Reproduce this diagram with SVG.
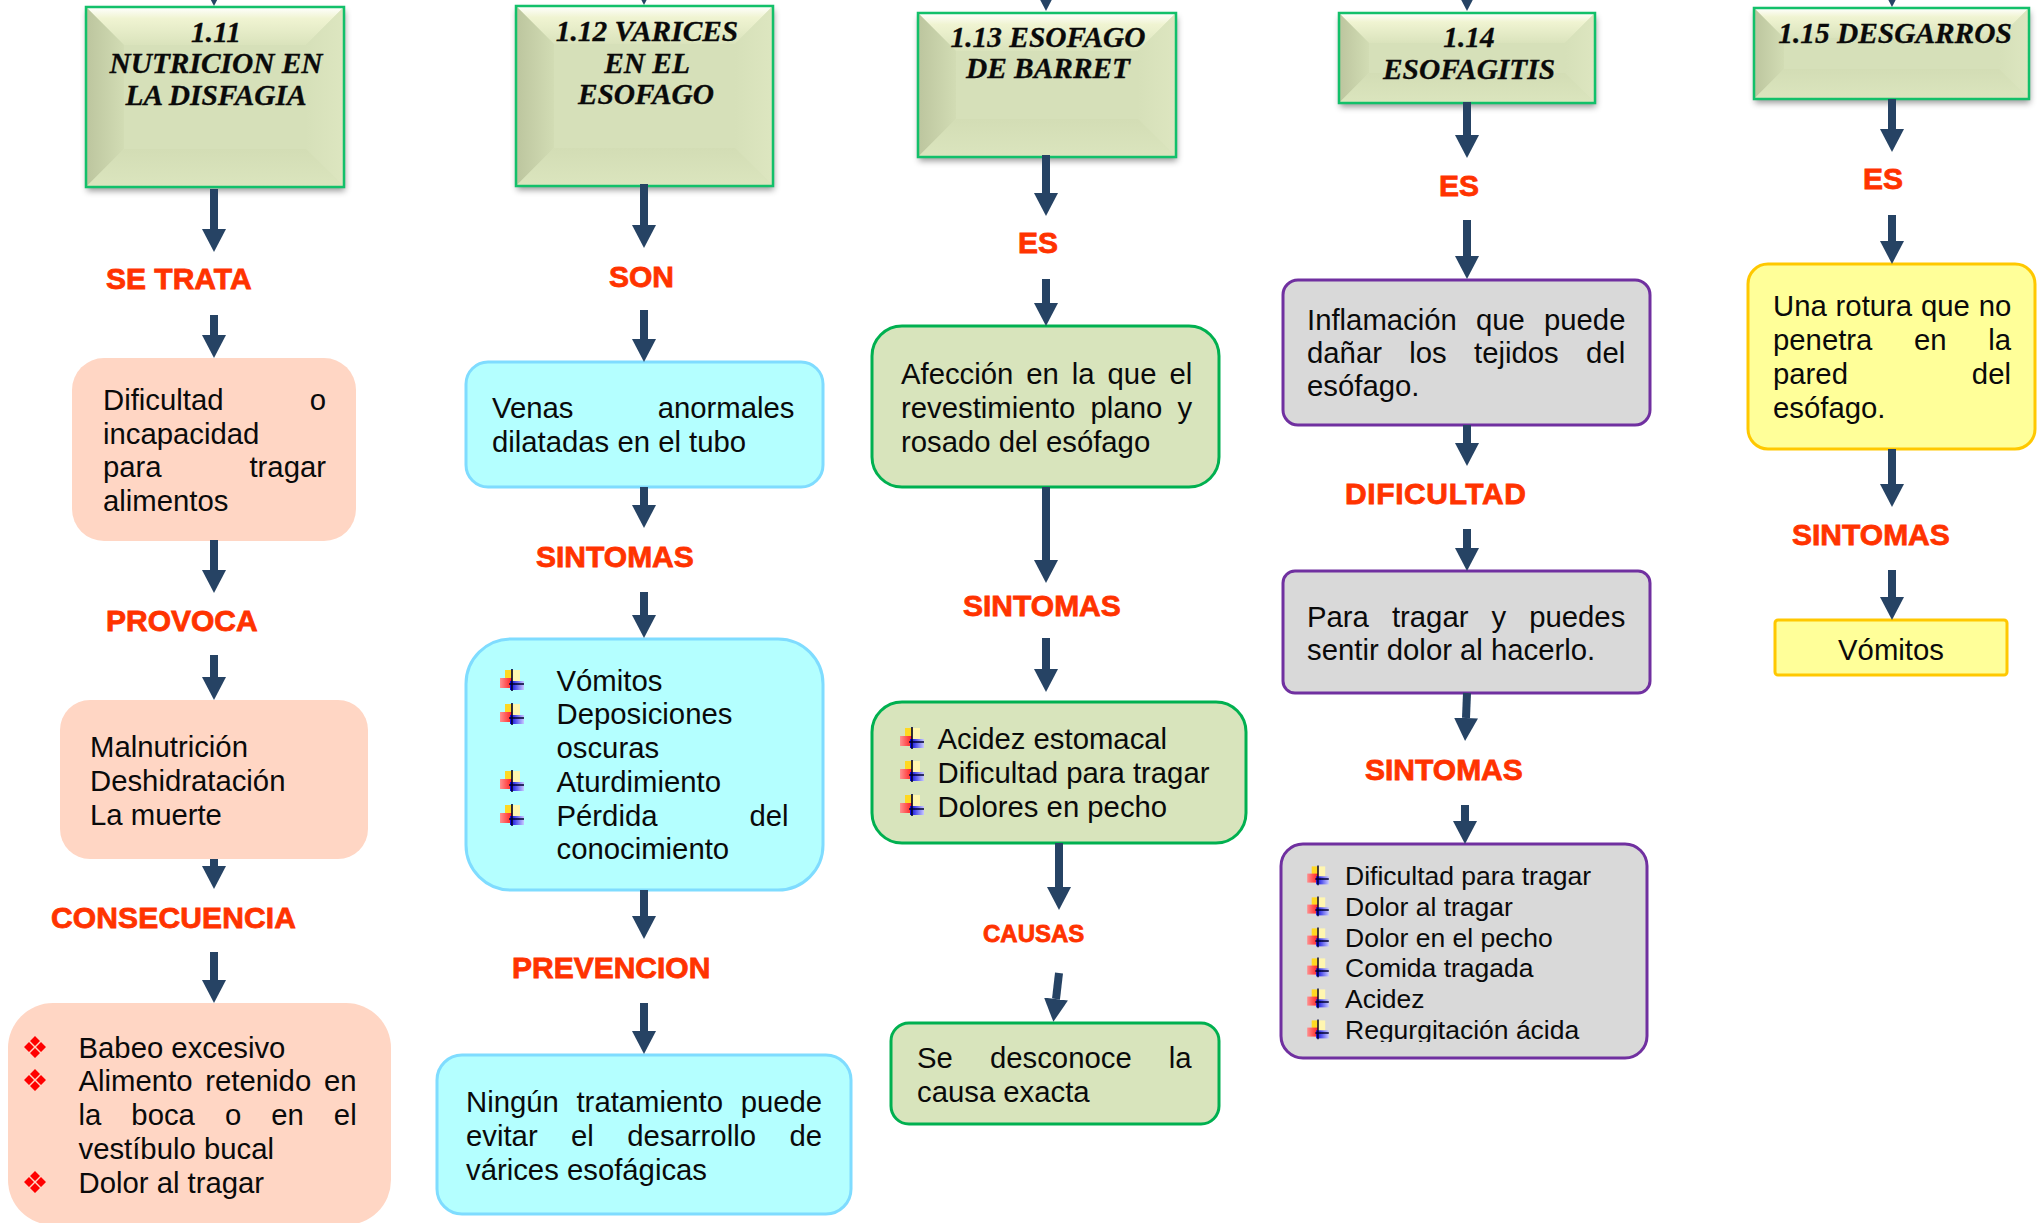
<svg xmlns="http://www.w3.org/2000/svg" width="2042" height="1223" viewBox="0 0 2042 1223">
<style>
text{font-family:"Liberation Sans",Arial,sans-serif;fill:#0a0a0a}
.b{font-size:29.3px}
.s{font-size:26.5px}
.l{font-size:30px;font-weight:bold;fill:#ff3300;stroke:#ff3300;stroke-width:.8px}
.h{font-family:"Liberation Serif","Times New Roman",serif;font-size:29.4px;font-weight:bold;font-style:italic;text-anchor:middle;stroke:#0a0a0a;stroke-width:.3px}
.hf{fill:#d6e0b9}
.ho{fill:none;stroke:#12c06a;stroke-width:2.5px}
.p{fill:#ffd6c4}
.c{fill:#b4ffff;stroke:#7fdcff;stroke-width:3px}
.g{fill:#d8e4bc;stroke:#00b050;stroke-width:3px}
.v{fill:#d9d9d9;stroke:#7030a0;stroke-width:3px}
.y{fill:#ffff99;stroke:#ffc800;stroke-width:3px}
#connectors line{stroke:#264364;stroke-width:8px;marker-end:url(#ah)}
</style>
<defs>
<marker id="ah" markerUnits="userSpaceOnUse" markerWidth="23" markerHeight="24" refX="0" refY="12" orient="auto"><path d="M0 0L23 12L0 24Z" fill="#264364"/></marker>
<linearGradient id="tg" x1="0" y1="0" x2="0" y2="1"><stop offset="0" stop-color="#ffffff"/><stop offset=".3" stop-color="#f0f4d2"/><stop offset="1" stop-color="#dae3bc"/></linearGradient>
<linearGradient id="lg" x1="0" y1="0" x2="1" y2="0"><stop offset="0" stop-color="#bcc59e"/><stop offset="1" stop-color="#d2dcb4"/></linearGradient>
<linearGradient id="rg" x1="0" y1="0" x2="1" y2="0"><stop offset="0" stop-color="#d6e0b9"/><stop offset="1" stop-color="#dde6c0"/></linearGradient>
<linearGradient id="bg" x1="0" y1="0" x2="0" y2="1"><stop offset="0" stop-color="#d3ddb5"/><stop offset="1" stop-color="#dbe5be"/></linearGradient>
<linearGradient id="ir" x1="0" y1="0" x2="1" y2="0"><stop offset="0" stop-color="#ff9090"/><stop offset="1" stop-color="#ff2020"/></linearGradient>
<linearGradient id="ib" x1="0" y1="0" x2="1" y2="0"><stop offset="0" stop-color="#0000e0"/><stop offset="1" stop-color="#c8c8ff"/></linearGradient>
<linearGradient id="iy" x1="0" y1="0" x2="1" y2="0"><stop offset=".45" stop-color="#ffd820"/><stop offset=".55" stop-color="#fff6b0"/></linearGradient>
<filter id="sh" x="-10%" y="-10%" width="120%" height="125%"><feDropShadow dx="1" dy="4" stdDeviation="3" flood-color="#000" flood-opacity=".4"/></filter>
<filter id="bl" x="-20%" y="-20%" width="140%" height="140%"><feGaussianBlur stdDeviation=".5"/></filter>
<g id="bd"><path fill="#ff0000" d="M0-11L5-6L0-1L-5-6ZM0 1L5 6L0 11L-5 6ZM-6-5L-1 0L-6 5L-11 0ZM6-5L11 0L6 5L1 0Z"/></g>
<g id="bp" filter="url(#bl)"><rect x="-7" y="-14" width="15" height="14" fill="url(#iy)"/><rect x="-12" y="-6" width="12" height="10" fill="url(#ir)"/><rect x="-2" y="-3" width="14" height="9" fill="url(#ib)"/><path d="M0-15V7M-3 0H12" stroke="#000030" stroke-width="1.6" fill="none"/></g>
<clipPath id="cl"><rect x="1340" y="1010" width="280" height="32"/></clipPath>
</defs>
<rect width="2042" height="1223" fill="#ffffff"/>
<g id="h111"><g filter="url(#sh)"><rect class="hf" x="86" y="7" width="258" height="180"/></g><path fill="url(#tg)" d="M86 7H344L306 45H124Z"/><path fill="url(#lg)" d="M86 7L124 45V149L86 187Z"/><path fill="url(#rg)" d="M344 7L306 45V149L344 187Z"/><path fill="url(#bg)" d="M86 187L124 149H306L344 187Z"/><rect class="ho" x="86" y="7" width="258" height="180"/>
<text class="h" x="216" y="42">1.11</text><text class="h" x="216" y="73">NUTRICION EN</text><text class="h" x="216" y="105">LA DISFAGIA</text></g>
<g id="h112"><g filter="url(#sh)"><rect class="hf" x="516" y="6" width="257" height="180"/></g><path fill="url(#tg)" d="M516 6H773L735 44H554Z"/><path fill="url(#lg)" d="M516 6L554 44V148L516 186Z"/><path fill="url(#rg)" d="M773 6L735 44V148L773 186Z"/><path fill="url(#bg)" d="M516 186L554 148H735L773 186Z"/><rect class="ho" x="516" y="6" width="257" height="180"/>
<text class="h" x="647" y="41">1.12 VARICES</text><text class="h" x="647" y="73">EN EL</text><text class="h" x="646" y="104">ESOFAGO</text></g>
<g id="h113"><g filter="url(#sh)"><rect class="hf" x="918" y="13" width="258" height="144"/></g><path fill="url(#tg)" d="M918 13H1176L1138 51H956Z"/><path fill="url(#lg)" d="M918 13L956 51V119L918 157Z"/><path fill="url(#rg)" d="M1176 13L1138 51V119L1176 157Z"/><path fill="url(#bg)" d="M918 157L956 119H1138L1176 157Z"/><rect class="ho" x="918" y="13" width="258" height="144"/>
<text class="h" x="1048" y="47">1.13 ESOFAGO</text><text class="h" x="1048" y="78">DE BARRET</text></g>
<g id="h114"><g filter="url(#sh)"><rect class="hf" x="1339" y="13" width="256" height="90"/></g><path fill="url(#tg)" d="M1339 13H1595L1565 43H1369Z"/><path fill="url(#lg)" d="M1339 13L1369 43V73L1339 103Z"/><path fill="url(#rg)" d="M1595 13L1565 43V73L1595 103Z"/><path fill="url(#bg)" d="M1339 103L1369 73H1565L1595 103Z"/><rect class="ho" x="1339" y="13" width="256" height="90"/>
<text class="h" x="1469" y="47">1.14</text><text class="h" x="1469" y="79">ESOFAGITIS</text></g>
<g id="h115"><g filter="url(#sh)"><rect class="hf" x="1754" y="8" width="275" height="91"/></g><path fill="url(#tg)" d="M1754 8H2029L1999 38H1784Z"/><path fill="url(#lg)" d="M1754 8L1784 38V69L1754 99Z"/><path fill="url(#rg)" d="M2029 8L1999 38V69L2029 99Z"/><path fill="url(#bg)" d="M1754 99L1784 69H1999L2029 99Z"/><rect class="ho" x="1754" y="8" width="275" height="91"/>
<text class="h" x="1895" y="43">1.15 DESGARROS</text></g>
<g id="l1"><text class="l" x="106" y="289">SE TRATA</text></g>
<g id="l2"><text class="l" x="106" y="631">PROVOCA</text></g>
<g id="l3"><text class="l" x="51" y="928" textLength="245">CONSECUENCIA</text></g>
<g id="l4"><text class="l" x="609" y="287">SON</text></g>
<g id="l5"><text class="l" x="536" y="567">SINTOMAS</text></g>
<g id="l6"><text class="l" x="512" y="978">PREVENCION</text></g>
<g id="l7"><text class="l" x="1018" y="253">ES</text></g>
<g id="l8"><text class="l" x="963" y="616">SINTOMAS</text></g>
<g id="l9"><text class="l" x="983" y="942" style="font-size:24px">CAUSAS</text></g>
<g id="l10"><text class="l" x="1439" y="196">ES</text></g>
<g id="l11"><text class="l" x="1345" y="504" textLength="181">DIFICULTAD</text></g>
<g id="l12"><text class="l" x="1365" y="780">SINTOMAS</text></g>
<g id="l13"><text class="l" x="1863" y="189">ES</text></g>
<g id="l14"><text class="l" x="1792" y="545">SINTOMAS</text></g>
<g id="n1"><rect class="p" x="72" y="358" width="284" height="183" rx="32"/>
<text class="b" x="103" y="410" word-spacing="78.2">Dificultad o</text><text class="b" x="103" y="444">incapacidad</text><text class="b" x="103" y="477" word-spacing="79.7">para tragar</text><text class="b" x="103" y="511">alimentos</text></g>
<g id="n2"><rect class="p" x="60" y="700" width="308" height="159" rx="30"/>
<text class="b" x="90" y="757">Malnutrición</text><text class="b" x="90" y="791">Deshidratación</text><text class="b" x="90" y="825">La muerte</text></g>
<g id="n3"><rect class="p" x="8" y="1003" width="383" height="222" rx="45"/>
<use href="#bd" x="35" y="1047"/><use href="#bd" x="35" y="1080"/><use href="#bd" x="35" y="1182"/>
<text class="b" x="78.500" y="1058">Babeo excesivo</text><text class="b" x="78.500" y="1091" word-spacing="4.7">Alimento retenido en</text><text class="b" x="78.500" y="1125" word-spacing="21.9">la boca o en el</text><text class="b" x="78.500" y="1159">vestíbulo bucal</text><text class="b" x="78.500" y="1193">Dolor al tragar</text></g>
<g id="n4"><rect class="c" x="466" y="362" width="357" height="125" rx="22"/>
<text class="b" x="492" y="418" word-spacing="76.1">Venas anormales</text><text class="b" x="492" y="452">dilatadas en el tubo</text></g>
<g id="n5"><rect class="c" x="466" y="639" width="357" height="251" rx="45"/>
<use href="#bp" x="512" y="684"/><use href="#bp" x="512" y="718"/><use href="#bp" x="512" y="785"/><use href="#bp" x="512" y="819"/>
<text class="b" x="556.500" y="691">Vómitos</text><text class="b" x="556.500" y="724">Deposiciones</text><text class="b" x="556.500" y="758">oscuras</text><text class="b" x="556.500" y="792">Aturdimiento</text><text class="b" x="556.500" y="826" word-spacing="83.9">Pérdida del</text><text class="b" x="556.500" y="859">conocimiento</text></g>
<g id="n6"><rect class="c" x="437" y="1055" width="414" height="159" rx="25"/>
<text class="b" x="466" y="1112" word-spacing="9.5">Ningún tratamiento puede</text><text class="b" x="466" y="1146" word-spacing="25.3">evitar el desarrollo de</text><text class="b" x="466" y="1180">várices esofágicas</text></g>
<g id="n7"><rect class="g" x="872" y="326" width="347" height="161" rx="30"/>
<text class="b" x="901" y="384" word-spacing="4.8">Afección en la que el</text><text class="b" x="901" y="418" word-spacing="7.2">revestimiento plano y</text><text class="b" x="901" y="452">rosado del esófago</text></g>
<g id="n8"><rect class="g" x="872" y="702" width="374" height="141" rx="30"/>
<use href="#bp" x="912" y="742"/><use href="#bp" x="912" y="775"/><use href="#bp" x="912" y="809"/>
<text class="b" x="937.500" y="749">Acidez estomacal</text><text class="b" x="937.500" y="783">Dificultad para tragar</text><text class="b" x="937.500" y="817">Dolores en pecho</text></g>
<g id="n9"><rect class="g" x="891" y="1023" width="328" height="101" rx="18"/>
<text class="b" x="917" y="1068" word-spacing="29">Se desconoce la</text><text class="b" x="917" y="1102">causa exacta</text></g>
<g id="n10"><rect class="v" x="1283" y="280" width="367" height="145" rx="15"/>
<text class="b" x="1307" y="330" word-spacing="11">Inflamación que puede</text><text class="b" x="1307" y="363" word-spacing="19.2">dañar los tejidos del</text><text class="b" x="1307" y="396">esófago.</text></g>
<g id="n11"><rect class="v" x="1283" y="571" width="367" height="122" rx="12"/>
<text class="b" x="1307" y="627" word-spacing="14.9">Para tragar y puedes</text><text class="b" x="1307" y="660">sentir dolor al hacerlo.</text></g>
<g id="n12"><rect class="v" x="1281" y="844" width="366" height="214" rx="22"/>
<use href="#bp" transform="translate(1318 879) scale(.9)"/><use href="#bp" transform="translate(1318 910) scale(.9)"/><use href="#bp" transform="translate(1318 941) scale(.9)"/><use href="#bp" transform="translate(1318 971) scale(.9)"/><use href="#bp" transform="translate(1318 1002) scale(.9)"/><use href="#bp" transform="translate(1318 1033) scale(.9)"/>
<text class="s" x="1345" y="885">Dificultad para tragar</text><text class="s" x="1345" y="916">Dolor al tragar</text><text class="s" x="1345" y="947">Dolor en el pecho</text><text class="s" x="1345" y="977">Comida tragada</text><text class="s" x="1345" y="1008">Acidez</text><text class="s" x="1345" y="1039" clip-path="url(#cl)">Regurgitación ácida</text></g>
<g id="n13"><rect class="y" x="1748" y="264" width="287" height="185" rx="20"/>
<text class="b" x="1773" y="316" word-spacing=".7">Una rotura que no</text><text class="b" x="1773" y="350" word-spacing="33.5">penetra en la</text><text class="b" x="1773" y="384" word-spacing="115.8">pared del</text><text class="b" x="1773" y="418">esófago.</text></g>
<g id="n14"><rect class="y" x="1775" y="620" width="232" height="55" rx="3"/>
<text class="b" x="1891" y="660" text-anchor="middle">Vómitos</text></g>
<g id="connectors">
<line x1="214" y1="-40" x2="214" y2="-17" style="stroke:#1f3864"/>
<line x1="644" y1="-40" x2="644" y2="-18"/>
<line x1="1046" y1="-40" x2="1046" y2="-12"/>
<line x1="1467" y1="-40" x2="1467" y2="-12"/>
<line x1="1892" y1="-40" x2="1892" y2="-16"/>
<line x1="214" y1="189" x2="214" y2="229"/>
<line x1="214" y1="315" x2="214" y2="335"/>
<line x1="214" y1="540" x2="214" y2="570"/>
<line x1="214" y1="655" x2="214" y2="677"/>
<line x1="214" y1="859" x2="214" y2="866"/>
<line x1="214" y1="952" x2="214" y2="980"/>
<line x1="644" y1="184" x2="644" y2="225"/>
<line x1="644" y1="310" x2="644" y2="339"/>
<line x1="644" y1="487" x2="644" y2="505"/>
<line x1="644" y1="592" x2="644" y2="615"/>
<line x1="644" y1="890" x2="644" y2="916"/>
<line x1="644" y1="1003" x2="644" y2="1031"/>
<line x1="1046" y1="155" x2="1046" y2="193"/>
<line x1="1046" y1="279" x2="1046" y2="303"/>
<line x1="1046" y1="487" x2="1046" y2="560"/>
<line x1="1046" y1="638" x2="1046" y2="669"/>
<line x1="1059" y1="843" x2="1059" y2="887"/>
<line x1="1059" y1="973" x2="1056" y2="999"/>
<line x1="1467" y1="102" x2="1467" y2="135"/>
<line x1="1467" y1="220" x2="1467" y2="256"/>
<line x1="1467" y1="425" x2="1467" y2="443"/>
<line x1="1467" y1="529" x2="1467" y2="548"/>
<line x1="1467" y1="693" x2="1466" y2="718"/>
<line x1="1465" y1="805" x2="1465" y2="821"/>
<line x1="1892" y1="99" x2="1892" y2="129"/>
<line x1="1892" y1="215" x2="1892" y2="241"/>
<line x1="1892" y1="449" x2="1892" y2="484"/>
<line x1="1892" y1="570" x2="1892" y2="597"/>
</g>
</svg>
